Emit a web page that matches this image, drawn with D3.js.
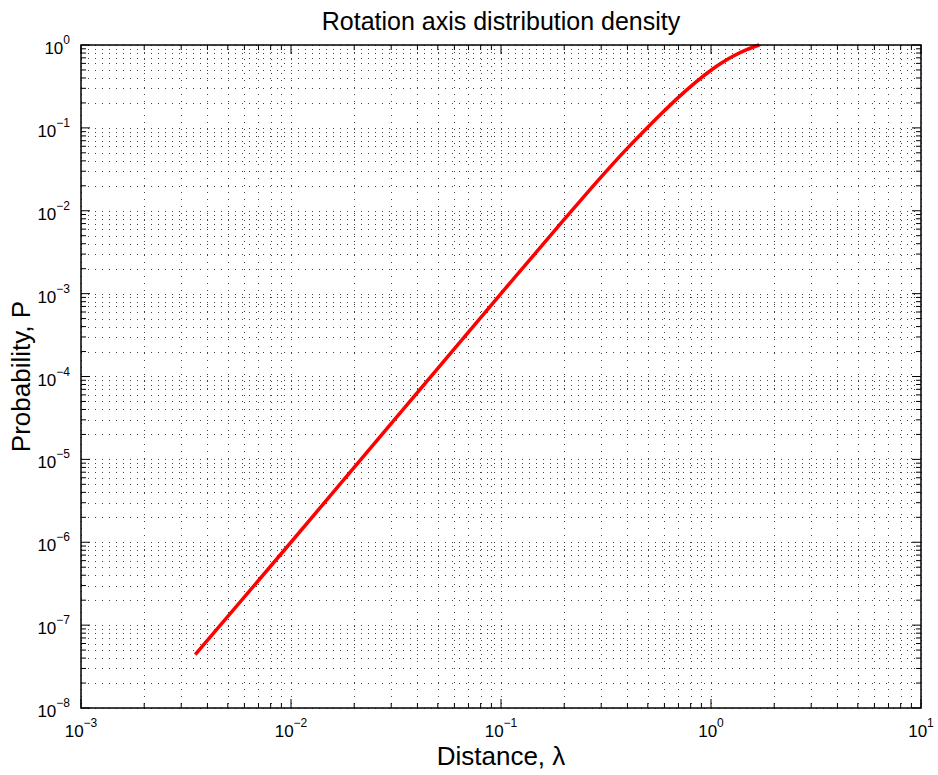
<!DOCTYPE html>
<html lang="en">
<head>
    <title>Rotation axis distribution density</title>
    <script src="https://d3js.org/d3.v7.min.js"></script>
    <style>
        body { margin: 0; background: #fff; }
        text { font-family: "Liberation Sans", Arial, Helvetica, sans-serif; fill: #000; }
    </style>
</head>
<body>
    <svg width=938 height=775></svg>
</body>
    <script>
    // curve
    const lambda = [0.0035, 0.01, 0.1, 0.1995, 0.316, 0.398, 0.5, 0.603, 0.708, 0.841, 1.0, 1.122, 1.259, 1.479, 1.7]
    const prob   = [4.4e-8, 1e-6, 1e-3, 7.8e-3, 0.0297, 0.0562, 0.102, 0.163, 0.24, 0.352, 0.496, 0.605, 0.72, 0.879, 1.0]
    const xTickExps = [-3, -2, -1, 0, 1]
    const yTickExps = [-8, -7, -6, -5, -4, -3, -2, -1, 0]

    const pLeft = 81, pRight = 921, pTop = 45, pBottom = 708

    const svg = d3.select("svg")
    svg.append("rect").attr("width", 938).attr("height", 775).attr("fill", "#fff")

    const x = d3.scaleLog().domain([1e-3, 1e1]).range([pLeft, pRight])
    const y = d3.scaleLog().domain([1e-8, 1e0]).range([pBottom, pTop])

    // every k*10^e value, major and minor
    function allTicks(exps) {
      let out = []
      exps.forEach((e, i) => {
        if (i == exps.length - 1) { out.push({v: Math.pow(10, e), major: true}); return }
        for (let k = 1; k < 10; k++) out.push({v: k * Math.pow(10, e), major: k == 1})
      })
      return out
    }
    const xt = allTicks(xTickExps), yt = allTicks(yTickExps)

    // dotted grid
    const grid = svg.append("g")
      .attr("stroke", "#444").attr("stroke-width", 1)
      .attr("stroke-dasharray", "1,6").attr("shape-rendering", "crispEdges")
    grid.selectAll(".gx").data(xt).join("line")
      .attr("x1", d => Math.round(x(d.v)) + 0.5).attr("x2", d => Math.round(x(d.v)) + 0.5)
      .attr("y1", pTop).attr("y2", pBottom)
    grid.selectAll(".gy").data(yt).join("line")
      .attr("y1", d => Math.round(y(d.v)) + 0.5).attr("y2", d => Math.round(y(d.v)) + 0.5)
      .attr("x1", pLeft).attr("x2", pRight)

    // red curve
    const pts = lambda.map((l, i) => [l, prob[i]])
    svg.append("path")
      .datum(pts)
      .attr("fill", "none").attr("stroke", "#ff0000").attr("stroke-width", 3.5)
      .attr("stroke-linejoin", "round")
      .attr("d", d3.line().x(d => x(d[0])).y(d => y(d[1])).curve(d3.curveMonotoneX))

    // inward ticks on all four sides
    const ticks = svg.append("g").attr("stroke", "#000").attr("stroke-width", 1)
    const len = d => d.major ? 9 : 5
    ticks.selectAll(".tb").data(xt).join("line")
      .attr("x1", d => x(d.v)).attr("x2", d => x(d.v)).attr("y1", pBottom).attr("y2", d => pBottom - len(d))
    ticks.selectAll(".tt").data(xt).join("line")
      .attr("x1", d => x(d.v)).attr("x2", d => x(d.v)).attr("y1", pTop).attr("y2", d => pTop + len(d))
    ticks.selectAll(".tl").data(yt).join("line")
      .attr("y1", d => y(d.v)).attr("y2", d => y(d.v)).attr("x1", pLeft).attr("x2", d => pLeft + len(d))
    ticks.selectAll(".tr").data(yt).join("line")
      .attr("y1", d => y(d.v)).attr("y2", d => y(d.v)).attr("x1", pRight).attr("x2", d => pRight - len(d))

    // box
    svg.append("rect")
      .attr("x", pLeft).attr("y", pTop).attr("width", pRight - pLeft).attr("height", pBottom - pTop)
      .attr("fill", "none").attr("stroke", "#000").attr("stroke-width", 1.5)

    // tick labels 10^e
    function powLabel(sel) {
      sel.append("tspan").attr("font-size", 17).text("10")
      sel.append("tspan").attr("font-size", 12).attr("dy", -10).text(d => d < 0 ? "\u2212" + (-d) : d)
    }
    svg.selectAll(".xl").data(xTickExps).join("text")
      .attr("x", d => x(Math.pow(10, d))).attr("y", pBottom + 29)
      .attr("text-anchor", "middle")
      .call(powLabel)
    svg.selectAll(".yl").data(yTickExps).join("text")
      .attr("x", pLeft - 11).attr("y", d => y(Math.pow(10, d)) + 9)
      .attr("text-anchor", "end")
      .call(powLabel)

    // titles
    svg.append("text").attr("x", (pLeft + pRight) / 2).attr("y", 30)
      .attr("text-anchor", "middle").attr("font-size", 25)
      .text("Rotation axis distribution density")
    svg.append("text").attr("x", (pLeft + pRight) / 2).attr("y", 765)
      .attr("text-anchor", "middle").attr("font-size", 26)
      .text("Distance, \u03bb")
    svg.append("text")
      .attr("transform", `translate(30,${(pTop + pBottom) / 2}) rotate(-90)`)
      .attr("text-anchor", "middle").attr("font-size", 26)
      .text("Probability, P")
    </script>
</html>
